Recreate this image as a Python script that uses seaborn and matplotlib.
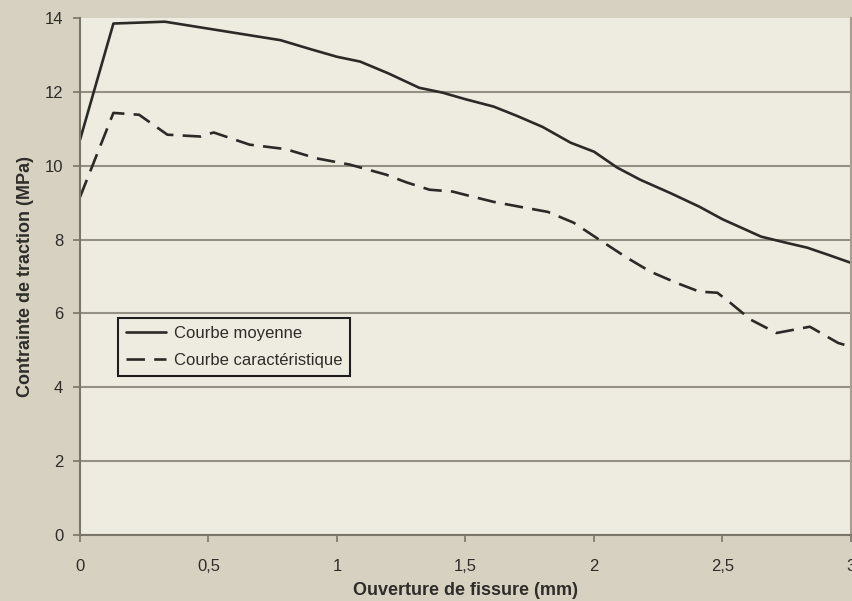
import matplotlib
matplotlib.use("Agg")
import matplotlib.pyplot as plt
import seaborn as sns
import pandas as pd

# Crack opening (mm) and tensile stress (MPa) for the two curves
mean_label = "Courbe moyenne"
char_label = "Courbe caractéristique"

mean_x = [0, 0.13, 0.33, 0.6, 0.78, 0.9, 1.0, 1.09, 1.2, 1.32, 1.41, 1.5, 1.61,
          1.7, 1.8, 1.91, 2.0, 2.09, 2.18, 2.3, 2.41, 2.5, 2.58, 2.65, 2.75,
          2.83, 2.91, 3.0]
mean_y = [10.7, 13.85, 13.9, 13.6, 13.4, 13.15, 12.95, 12.82, 12.5, 12.11,
          11.98, 11.8, 11.6, 11.35, 11.05, 10.62, 10.38, 9.95, 9.62, 9.25,
          8.89, 8.55, 8.3, 8.08, 7.91, 7.78, 7.59, 7.37]

char_x = [0, 0.13, 0.23, 0.34, 0.47, 0.52, 0.66, 0.8, 0.92, 1.05, 1.19, 1.27,
          1.36, 1.45, 1.5, 1.61, 1.71, 1.82, 1.92, 2.02, 2.13, 2.22, 2.32,
          2.41, 2.48, 2.53, 2.61, 2.71, 2.84, 2.95, 3.0]
char_y = [9.15, 11.43, 11.38, 10.84, 10.79, 10.9, 10.57, 10.45, 10.2, 10.03,
          9.76, 9.55, 9.35, 9.3, 9.21, 9.02, 8.89, 8.75, 8.46, 8.0, 7.5, 7.13,
          6.83, 6.59, 6.56, 6.29, 5.83, 5.47, 5.64, 5.2, 5.1]

x_ticks = [0, 0.5, 1, 1.5, 2, 2.5, 3]
x_tick_labels = ["0", "0,5", "1", "1,5", "2", "2,5", "3"]
y_ticks = [0, 2, 4, 6, 8, 10, 12, 14]
y_tick_labels = ["0", "2", "4", "6", "8", "10", "12", "14"]

x_title = "Ouverture de fissure (mm)"
y_title = "Contrainte de traction (MPa)"

df = pd.concat([
    pd.DataFrame({"x": mean_x, "y": mean_y, "courbe": mean_label}),
    pd.DataFrame({"x": char_x, "y": char_y, "courbe": char_label}),
], ignore_index=True)

sns.set_style("white")
plt.rcParams["font.family"] = ["Liberation Sans", "DejaVu Sans"]

fig_bg = "#d7d1c1"
ax_bg = "#eeebe1"
line_col = "#2b2a27"
axis_col = "#7a7568"
text_col = "#2f2d29"

fig = plt.figure(figsize=(8.53, 6.01), dpi=100, facecolor=fig_bg)
ax = fig.add_axes([80 / 853, 1 - 535 / 601, 771 / 853, 517 / 601])
ax.set_facecolor(ax_bg)

sns.lineplot(data=df, x="x", y="y", style="courbe",
             dashes={mean_label: "", char_label: (7, 3.5)},
             color=line_col, linewidth=1.9, ax=ax, sort=False)

ax.set_xlim(0, 3)
ax.set_ylim(0, 14)
ax.set_xticks(x_ticks)
ax.set_xticklabels(x_tick_labels)
ax.set_yticks(y_ticks)
ax.set_yticklabels(y_tick_labels)

ax.yaxis.grid(True, color="#959084", linewidth=1.5)
ax.xaxis.grid(False)
ax.set_axisbelow(True)
ax.get_ygridlines()[-1].set_visible(False)

for side in ("left", "bottom"):
    ax.spines[side].set_color(axis_col)
    ax.spines[side].set_linewidth(1.5)
ax.spines["right"].set_color("#a39e91")
ax.spines["right"].set_linewidth(1.5)
ax.spines["top"].set_visible(False)

ax.tick_params(axis="both", which="major", direction="out", color=axis_col,
               width=1.2, labelsize=12, labelcolor=text_col)
ax.tick_params(axis="y", length=5, pad=7, left=True)
ax.tick_params(axis="x", length=5, pad=12, bottom=True)

ax.set_xlabel(x_title, fontsize=13, fontweight="bold", color=text_col, labelpad=6)
ax.set_ylabel(y_title, fontsize=13, fontweight="bold", color=text_col, labelpad=8)

sns.move_legend(ax, "upper left", bbox_to_anchor=(0.049, 0.42), title=None,
                frameon=True, fancybox=False, fontsize=12, borderaxespad=0,
                handlelength=2.4, handletextpad=0.45, labelspacing=0.7,
                borderpad=0.5)
leg = ax.get_legend()
frame = leg.get_frame()
frame.set_edgecolor("#1e1e1e")
frame.set_linewidth(1.5)
frame.set_facecolor(ax_bg)
frame.set_alpha(1)
for t in leg.get_texts():
    t.set_color(text_col)

fig.savefig("out.png", dpi=100, facecolor=fig_bg)
